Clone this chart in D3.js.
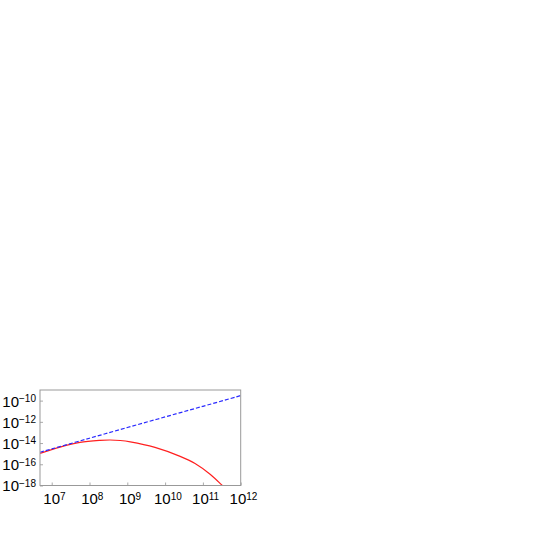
<!DOCTYPE html>
<html lang="en">
<head>
  <meta charset="UTF-8">
  <title>log-log chart</title>
  <script src="https://d3js.org/d3.v7.min.js"></script>
  <style>
    body { margin: 0; background: #fff; }
    .frame { fill: none; stroke: #999; stroke-width: 1; }
    .axis .domain { display: none; }
    .axis line { stroke: #aaa; }
  </style>
</head>
<body>
  <div id="chart"></div>
  <script>
    // tick values
    const xTicks = [1e7, 1e8, 1e9, 1e10, 1e11, 1e12];
    const yTicks = [1e-18, 1e-16, 1e-14, 1e-12, 1e-10];

    // blue dashed series (straight in log-log)
    const blueX = [4.9e6, 1e7, 1e8, 1e9, 1e10, 1e11, 1e12];
    const blueY = [1.35e-15, 2.8e-15, 2.85e-14, 2.9e-13, 2.9e-12, 2.9e-11, 2.95e-10];

    // red solid series
    const redX = [4.9e6, 1.66e7, 5.6e7, 1.9e8, 3.5e8, 6.5e8, 1.2e9, 5.4e9, 2.5e10, 6.2e10, 1.55e11, 3.2e11, 4.2e11];
    const redY = [1.07e-15, 4.2e-15, 1.17e-14, 1.8e-14, 1.95e-14, 1.74e-14, 1.3e-14, 3.9e-15, 5.6e-16, 1.2e-16, 1.17e-17, 1.07e-18, 4e-19];

    const width = 545, height = 545;
    const margin = {top: 390, right: 304.3, bottom: 59.5, left: 40};

    const svg = d3.select("#chart").append("svg")
      .attr("width", width)
      .attr("height", height);

    const x = d3.scaleLog()
      .domain([4.9e6, 1e12])
      .range([margin.left, width - margin.right]);

    const y = d3.scaleLog()
      .domain([1e-18, 1e-9])
      .range([height - margin.bottom, margin.top]);

    svg.append("clipPath").attr("id", "clip")
      .append("rect")
        .attr("x", margin.left).attr("y", margin.top)
        .attr("width", x.range()[1] - x.range()[0])
        .attr("height", y.range()[0] - y.range()[1]);

    const supLabel = (sel, exp) => {
      sel.text(null);
      sel.append("tspan").text("10");
      sel.append("tspan")
        .attr("dy", "-0.45em")
        .attr("font-size", "10px")
        .text(exp);
    };

    const font = "'Liberation Sans', Arial, Helvetica, sans-serif";

    // bottom axis, ticks inward
    svg.append("g")
      .attr("class", "axis")
      .attr("font-family", font)
      .attr("transform", `translate(0,${y.range()[0]})`)
      .call(d3.axisBottom(x).tickValues(xTicks).tickSize(-3).tickPadding(8))
      .call(g => g.selectAll(".tick text")
        .attr("font-size", "15px")
        .attr("fill", "#000")
        .attr("dx", "0.15em")
        .each(function(d) { supLabel(d3.select(this), String(Math.round(Math.log10(d)))); }));

    // left axis, ticks inward
    svg.append("g")
      .attr("class", "axis")
      .attr("font-family", font)
      .attr("transform", `translate(${margin.left},0)`)
      .call(d3.axisLeft(y).tickValues(yTicks).tickSize(-3).tickPadding(4))
      .call(g => g.selectAll(".tick text")
        .attr("font-size", "15px")
        .attr("fill", "#000")
        .attr("dy", "0.36em")
        .each(function(d) { supLabel(d3.select(this), "\u2212" + Math.round(-Math.log10(d))); }));

    const line = d3.line()
      .x(d => x(d[0]))
      .y(d => y(d[1]))
      .curve(d3.curveCatmullRom.alpha(0.5));

    const plot = svg.append("g").attr("clip-path", "url(#clip)");

    plot.append("path")
      .datum(d3.zip(redX, redY))
      .attr("fill", "none")
      .attr("stroke", "#ff2020")
      .attr("stroke-width", 1.2)
      .attr("d", line);

    plot.append("path")
      .datum(d3.zip(blueX, blueY))
      .attr("fill", "none")
      .attr("stroke", "#2a2aff")
      .attr("stroke-width", 1.2)
      .attr("stroke-dasharray", "4,2")
      .attr("d", line);

    svg.append("rect")
      .attr("class", "frame")
      .attr("x", margin.left).attr("y", margin.top)
      .attr("width", x.range()[1] - x.range()[0])
      .attr("height", y.range()[0] - y.range()[1]);
  </script>
</body>
</html>
